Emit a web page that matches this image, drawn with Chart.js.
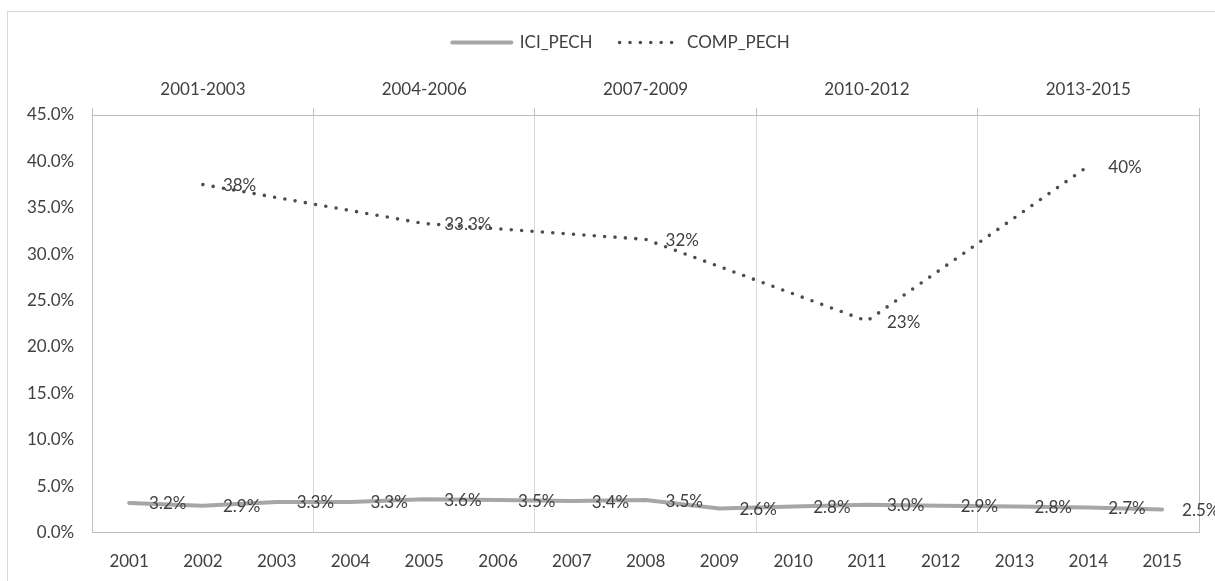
<!DOCTYPE html>
<html lang="en">
<head>
    <meta charset="UTF-8">
    <title>ICI_PECH / COMP_PECH</title>
    <script src="https://cdn.jsdelivr.net/npm/chart.js"></script>
    <style>
        html, body {
            margin: 0;
            padding: 0;
            background: #fff;
            overflow: hidden;
        }
        .frame {
            position: relative;
            width: 1215px;
            height: 581px;
        }
        .frame .outline {
            position: absolute;
            left: 7px;
            top: 11px;
            width: 1240px;
            height: 600px;
            border: 1px solid #d9d9d9;
        }
        canvas {
            position: absolute;
            left: 0;
            top: 0;
        }
    </style>
</head>
<body>
    <div class="frame">
        <div class="outline"></div>
        <canvas id="pechChart" width="1215" height="581"></canvas>
    </div>

    <script>
        // data
        const years = ['2001', '2002', '2003', '2004', '2005', '2006', '2007', '2008',
                       '2009', '2010', '2011', '2012', '2013', '2014', '2015'];
        const periods = ['2001-2003', '2004-2006', '2007-2009', '2010-2012', '2013-2015'];
        const iciPech = [3.2, 2.9, 3.3, 3.3, 3.6, 3.5, 3.4, 3.5, 2.6, 2.8, 3.0, 2.9, 2.8, 2.7, 2.5];
        const iciLabels = ['3.2%', '2.9%', '3.3%', '3.3%', '3.6%', '3.5%', '3.4%', '3.5%',
                           '2.6%', '2.8%', '3.0%', '2.9%', '2.8%', '2.7%', '2.5%'];
        const compPech = [null, 37.5, null, null, 33.3, null, null, 31.6, null, null, 22.8, null, null, 39.5, null];
        const compLabels = [null, '38%', null, null, '33.3%', null, null, '32%', null, null, '23%', null, null, '40%', null];

        const textColor = '#404040';
        const axisColor = '#bfbfbf';
        const gridColor = '#d9d9d9';
        const font = { family: 'Lato', size: 17 };

        // writes each point's label just right of the point
        const pointLabels = {
            id: 'pointLabels',
            afterDatasetsDraw(chart) {
                const ctx = chart.ctx;
                ctx.save();
                ctx.font = '17px Lato';
                ctx.fillStyle = textColor;
                ctx.textAlign = 'left';
                ctx.textBaseline = 'middle';
                chart.data.datasets.forEach((ds, i) => {
                    const meta = chart.getDatasetMeta(i);
                    meta.data.forEach((pt, j) => {
                        const txt = ds.pointText[j];
                        if (!txt || ds.data[j] == null) return;
                        ctx.fillText(txt, pt.x + 20, pt.y + 1);
                    });
                });
                ctx.restore();
            }
        };

        new Chart(document.getElementById('pechChart'), {
            type: 'line',
            data: {
                labels: years,
                datasets: [{
                    label: 'ICI_PECH',
                    data: iciPech,
                    pointText: iciLabels,
                    borderColor: '#a6a6a6',
                    borderWidth: 4,
                    borderCapStyle: 'round',
                    pointRadius: 0,
                    tension: 0
                }, {
                    label: 'COMP_PECH',
                    data: compPech,
                    pointText: compLabels,
                    spanGaps: true,
                    borderColor: '#4d4d4d',
                    borderWidth: 3.6,
                    borderDash: [0, 10.4],
                    borderCapStyle: 'round',
                    pointRadius: 0,
                    tension: 0
                }]
            },
            options: {
                responsive: false,
                animation: false,
                layout: {
                    padding: { top: 7, left: 27, right: 0, bottom: 9 }
                },
                plugins: {
                    tooltip: { enabled: false },
                    legend: {
                        position: 'top',
                        labels: {
                            usePointStyle: true,
                            pointStyleWidth: 59,
                            padding: 27,
                            color: textColor,
                            font: font,
                            generateLabels(chart) {
                                return chart.data.datasets.map((ds, i) => ({
                                    text: ds.label,
                                    datasetIndex: i,
                                    pointStyle: 'line',
                                    strokeStyle: ds.borderColor,
                                    fillStyle: ds.borderColor,
                                    lineWidth: ds.borderWidth,
                                    lineDash: ds.borderDash || [],
                                    lineCap: ds.borderCapStyle,
                                    fontColor: textColor,
                                    hidden: false
                                }));
                            }
                        }
                    }
                },
                scales: {
                    x: {
                        position: 'bottom',
                        offset: true,
                        grid: { display: false, drawTicks: false },
                        border: { color: axisColor },
                        ticks: { color: textColor, font: font, padding: 19, maxRotation: 0, autoSkip: false },
                        afterFit(scale) { scale.height -= 19; }
                    },
                    x2: {
                        type: 'category',
                        position: 'top',
                        labels: periods,
                        offset: true,
                        grid: { offset: true, color: gridColor, tickColor: axisColor, tickLength: 7 },
                        border: { color: axisColor },
                        ticks: { color: textColor, font: font, padding: 8, maxRotation: 0 },
                        afterFit(scale) { scale.height += 10.6; }
                    },
                    y: {
                        min: 0,
                        max: 45,
                        grid: { display: false, drawTicks: false },
                        border: { color: axisColor },
                        ticks: {
                            stepSize: 5,
                            color: textColor,
                            font: font,
                            padding: 18,
                            callback: v => v.toFixed(1) + '%'
                        },
                        afterFit(scale) { scale.width -= 18; }
                    },
                    y2: {
                        position: 'right',
                        grid: { display: false, drawTicks: false },
                        border: { color: axisColor },
                        ticks: { display: false },
                        afterFit(scale) { scale.width = 16; }
                    }
                }
            },
            plugins: [pointLabels]
        });
    </script>
</body>
</html>
